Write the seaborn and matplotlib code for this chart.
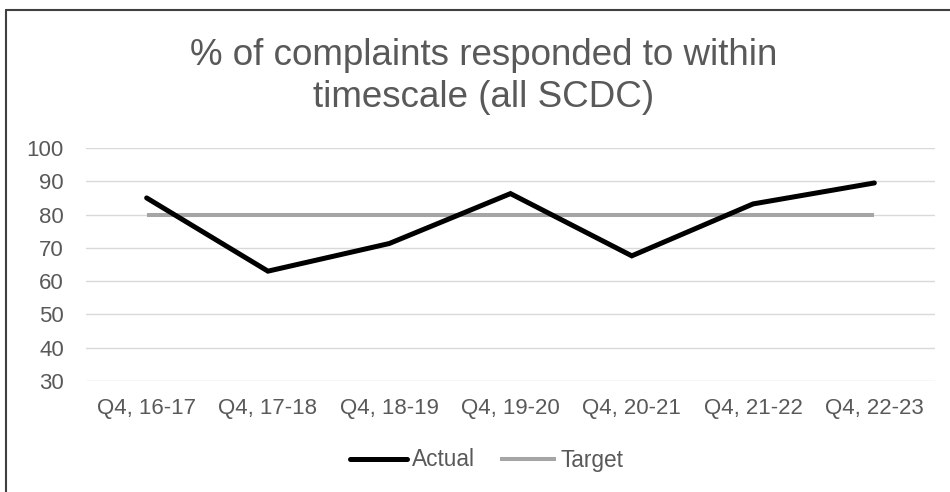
import matplotlib
matplotlib.use("Agg")
import matplotlib.pyplot as plt
import seaborn as sns
import pandas as pd
from matplotlib.lines import Line2D

# Chart data
quarters = ["Q4, 16-17", "Q4, 17-18", "Q4, 18-19", "Q4, 19-20",
            "Q4, 20-21", "Q4, 21-22", "Q4, 22-23"]
actual = [85, 63, 71.3, 86.3, 67.6, 83.2, 89.5]
target = [80, 80, 80, 80, 80, 80, 80]
y_ticks = [30, 40, 50, 60, 70, 80, 90, 100]
title_lines = ["% of complaints responded to within", "timescale (all SCDC)"]

sns.set_theme(style="white")
plt.rcParams["font.family"] = ["Liberation Sans", "DejaVu Sans"]

W, H = 950, 492
df = pd.DataFrame({"Quarter": quarters, "Actual": actual, "Target": target})
df["pos"] = range(len(quarters))

fig = plt.figure(figsize=(W / 100, H / 100), dpi=100)
ax = fig.add_axes([86 / W, 1 - 381 / H, 849 / W, (381 - 148) / H])

sns.lineplot(data=df, x="pos", y="Actual", ax=ax, color="black", lw=3.6,
             label="Actual", solid_capstyle="round", solid_joinstyle="miter")
sns.lineplot(data=df, x="pos", y="Target", ax=ax, color="#A5A5A5", lw=2.9,
             label="Target", solid_capstyle="butt")
ax.lines[0].set_zorder(4)

ax.set_xlim(-0.5, len(quarters) - 0.5)
ax.set_ylim(30, 100)
ax.set_yticks(y_ticks)
ax.set_xticks(df["pos"])
ax.set_xticklabels(quarters)
ax.set_xlabel("")
ax.set_ylabel("")
ax.yaxis.grid(True, color="#D9D9D9", lw=1)
ax.xaxis.grid(False)
for s in ax.spines.values():
    s.set_visible(False)
ax.tick_params(axis="both", length=0, labelsize=16, colors="#595959")
ax.tick_params(axis="x", pad=12)
ax.tick_params(axis="y", pad=16)

# title, two centred lines
for txt, base in zip(title_lines, [65, 107]):
    fig.text(484 / W, 1 - base / H, txt, ha="center", va="baseline",
             fontsize=26.5, color="#595959")

handles, labels = ax.get_legend_handles_labels()
ax.legend(handles, labels, loc="center", bbox_to_anchor=(487 / W, 1 - 460 / H),
          bbox_transform=fig.transFigure, ncol=2, frameon=False, fontsize=16.3,
          labelcolor="#595959", handlelength=2.5, handletextpad=0.2, columnspacing=1.1)

# chart-area border (only left and top fall inside the image)
fig.lines.append(Line2D([6 / W, 6 / W], [0, 1 - 10 / H], transform=fig.transFigure,
                        color="#404040", lw=1.5))
fig.lines.append(Line2D([6 / W, 1], [1 - 10 / H, 1 - 10 / H], transform=fig.transFigure,
                        color="#404040", lw=1.5))

fig.savefig("out.png", dpi=100, facecolor="white")
